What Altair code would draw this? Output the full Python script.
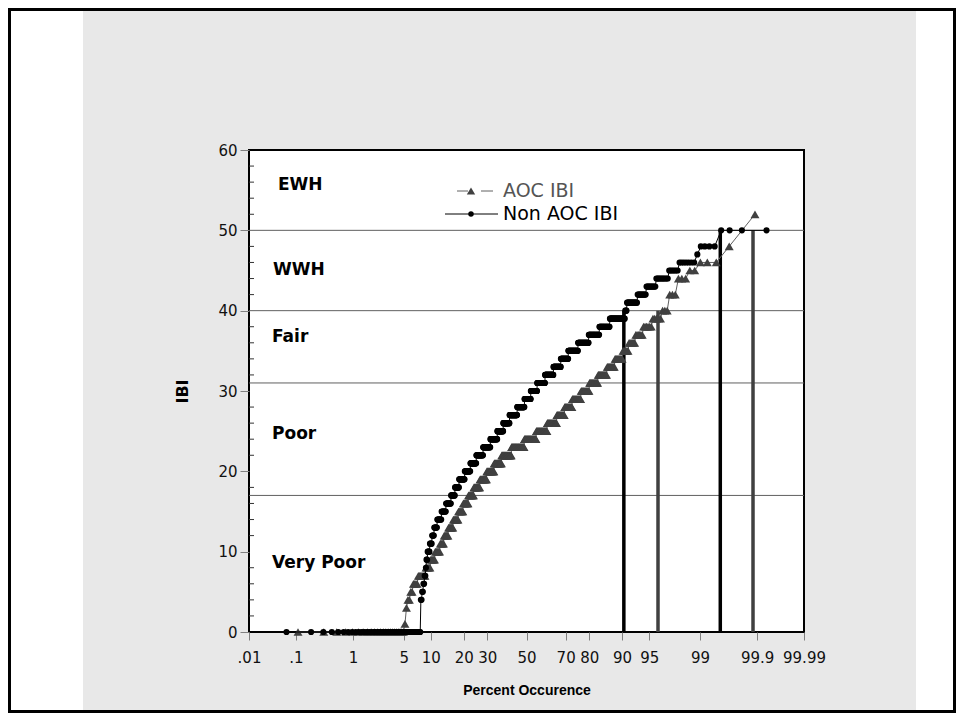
import altair as alt
import pandas as pd
from statistics import NormalDist

ND = NormalDist()

# ---------------- data ----------------
series_names = ["AOC IBI", "Non AOC IBI"]
series_colors = ["#404040", "#000000"]

# AOC sites: IBI score and number of sites with that score
aoc_ibi = [0, 1, 3, 4, 5, 6, 7, 8, 9, 10, 11, 12, 13, 14, 15, 16, 17, 18, 19, 20,
           21, 22, 23, 24, 25, 26, 27, 28, 29, 30, 31, 32, 33, 34, 35, 36, 37, 38,
           39, 40, 42, 44, 45, 46, 48, 52]
aoc_count = [23, 1, 1, 2, 2, 4, 7, 5, 5, 6, 5, 6, 7, 8, 8, 9, 10, 12, 14, 16,
             17, 23, 31, 29, 26, 22, 17, 16, 17, 15, 14, 13, 10, 9, 6, 6, 6, 6,
             5, 3, 3, 3, 2, 3, 1, 1]

# Non AOC sites
non_ibi = [0, 4, 5, 6, 7, 8, 9, 10, 11, 12, 13, 14, 15, 16, 17, 18, 19, 20, 21, 22,
           23, 24, 25, 26, 27, 28, 29, 30, 31, 32, 33, 34, 35, 36, 37, 38, 39, 40,
           41, 42, 43, 44, 45, 46, 47, 48, 50]
non_count = [60, 2, 2, 2, 2, 1, 2, 4, 4, 4, 6, 9, 10, 12, 10, 11, 16, 17, 19, 23,
             26, 26, 23, 25, 31, 30, 26, 26, 32, 33, 28, 27, 33, 33, 29, 25, 30, 3,
             16, 11, 10, 10, 6, 7, 1, 4, 4]

tick_pct = [0.01, 0.1, 1, 5, 10, 20, 30, 50, 70, 80, 90, 95, 99, 99.9, 99.99]
tick_labels = [".01", ".1", "1", "5", "10", "20", "30", "50", "70", "80", "90",
               "95", "99", "99.9", "99.99"]

class_bounds = [17, 31, 40, 50]
class_names = ["EWH", "WWH", "Fair", "Poor", "Very Poor"]
class_y = [55.6, 45.1, 36.7, 24.6, 8.65]

cross_pct = [90.4, 96.1, 99.53, 99.88]
cross_ibi = [40, 40, 50, 50]
cross_series = ["Non AOC IBI", "AOC IBI", "Non AOC IBI", "AOC IBI"]

major_y = [0, 10, 20, 30, 40, 50, 60]
minor_y = [v for v in range(2, 60, 2) if v % 10]

# ---------------- helpers ----------------
W, H = 555, 482


def probit(pct):
    return ND.inv_cdf(pct / 100.0)


def expand(values, counts, name):
    n = sum(counts)
    rows, i = [], 0
    for v, c in zip(values, counts):
        for _ in range(c):
            i += 1
            p = (i - 0.5) / n
            rows.append({"series": name, "ibi": v, "pct": 100 * p,
                         "z": ND.inv_cdf(p), "order": i})
    return pd.DataFrame(rows)


aoc_df = expand(aoc_ibi, aoc_count, series_names[0])
non_df = expand(non_ibi, non_count, series_names[1])

tick_z = [probit(p) for p in tick_pct]
parts = []
for i in range(len(tick_z) - 1):
    mid = (tick_z[i] + tick_z[i + 1]) / 2
    parts.append(f"datum.value < {mid:.6f} ? '{tick_labels[i]}' : ")
label_expr = "".join(parts) + f"'{tick_labels[-1]}'"

FONT = "Liberation Sans"
WIDE = "DejaVu Sans"
xscale = alt.Scale(domain=[probit(0.01), probit(99.99)], nice=False, zero=False)
yscale = alt.Scale(domain=[0, 60], nice=False, zero=False)
xaxis = alt.Axis(values=tick_z, labelExpr=label_expr, grid=False, domain=False,
                 tickSize=8, tickColor="#808080", labelFont=WIDE, labelFontSize=15,
                 labelColor="#111", labelPadding=10, labelOverlap=False,
                 labelFlush=False, title="Percent Occurence",
                 titleFont=FONT, titleFontSize=14, titleFontWeight="bold",
                 titleColor="#000", titlePadding=18)
yaxis = alt.Axis(values=major_y, grid=False, domain=False, tickSize=9,
                 tickColor="#808080", labelFont=WIDE, labelFontSize=15,
                 labelColor="#111", labelPadding=3, labelOverlap=False,
                 labelFlush=False, title="IBI", titleFont=WIDE,
                 titleFontSize=16, titleFontWeight="bold", titleColor="#000",
                 titlePadding=27)


def X(field):
    return alt.X(field, type="quantitative", scale=xscale, axis=xaxis)


def Y(field):
    return alt.Y(field, type="quantitative", scale=yscale, axis=yaxis)


one = pd.DataFrame({"k": [0]})

# decoration: white margins and outer frame
white_left = alt.Chart(one).mark_rect(color="white").encode(
    x=alt.value(-241), x2=alt.value(-166), y=alt.value(-142), y2=alt.value(563))
white_right = alt.Chart(one).mark_rect(color="white").encode(
    x=alt.value(667), x2=alt.value(707), y=alt.value(-142), y2=alt.value(563))
frame = alt.Chart(one).mark_rect(filled=False, stroke="black", strokeWidth=3).encode(
    x=alt.value(-239.5), x2=alt.value(705.5), y=alt.value(-140.5), y2=alt.value(561.5))

# minor inward ticks on y axis
minor = alt.Chart(pd.DataFrame({"m": minor_y})).mark_rule(
    color="#333", strokeWidth=1).encode(y=Y("m"), x=alt.value(0), x2=alt.value(5))

# class boundary lines and names
bounds = alt.Chart(pd.DataFrame({"b": class_bounds})).mark_rule(
    color="#606060", strokeWidth=1).encode(y=Y("b"))
cls = pd.DataFrame({"name": class_names, "y": class_y})
cls_style = dict(align="left", baseline="middle", font=WIDE, fontSize=17,
                 fontWeight="bold", color="#000")
cls_first = alt.Chart(cls.iloc[:1]).mark_text(**cls_style).encode(
    x=alt.value(29), y=Y("y"), text="name:N")
cls_second = alt.Chart(cls.iloc[1:2]).mark_text(**cls_style).encode(
    x=alt.value(24), y=Y("y"), text="name:N")
cls_rest = alt.Chart(cls.iloc[2:]).mark_text(**cls_style).encode(
    x=alt.value(23), y=Y("y"), text="name:N")

color_scale = alt.Scale(domain=series_names, range=series_colors)

cross = pd.DataFrame({"z": [probit(p) for p in cross_pct], "top": cross_ibi,
                      "base": [0] * len(cross_pct), "series": cross_series})
cross_rules = alt.Chart(cross).mark_rule(strokeWidth=3.5).encode(
    x=X("z"), y=Y("base"), y2="top:Q",
    color=alt.Color("series:N", scale=color_scale, legend=None))

aoc_line = alt.Chart(aoc_df).mark_line(color="#606060", strokeWidth=1).encode(
    x=X("z"), y=Y("ibi"), order="order:Q")
aoc_pts = alt.Chart(aoc_df).mark_point(
    shape="triangle-up", filled=True, size=80, color="#404040", opacity=1).encode(
    x=X("z"), y=Y("ibi"))
non_line = alt.Chart(non_df).mark_line(color="#000", strokeWidth=1).encode(
    x=X("z"), y=Y("ibi"), order="order:Q")
non_pts = alt.Chart(non_df).mark_circle(size=38, color="#000", opacity=1).encode(
    x=X("z"), y=Y("ibi"))

# legend drawn by hand
leg1 = pd.DataFrame({"s": [series_names[0]]})
leg2 = pd.DataFrame({"s": [series_names[1]]})
leg_aoc_line_a = alt.Chart(leg1).mark_rule(color="#606060", strokeWidth=1).encode(
    x=alt.value(208), x2=alt.value(219), y=alt.value(41))
leg_aoc_line_b = alt.Chart(leg1).mark_rule(color="#606060", strokeWidth=1).encode(
    x=alt.value(232), x2=alt.value(244), y=alt.value(41))
leg_aoc_sym = alt.Chart(leg1).mark_point(
    shape="triangle-up", filled=True, size=70, color="#404040", opacity=1).encode(
    x=alt.value(222), y=alt.value(41))
leg_aoc_txt = alt.Chart(leg1).mark_text(
    align="left", baseline="middle", font=WIDE, fontSize=19, color="#555").encode(
    x=alt.value(254), y=alt.value(41), text="s:N")
leg_non_line = alt.Chart(leg2).mark_rule(color="#000", strokeWidth=1).encode(
    x=alt.value(196), x2=alt.value(249), y=alt.value(64))
leg_non_sym = alt.Chart(leg2).mark_circle(size=30, color="#000", opacity=1).encode(
    x=alt.value(222), y=alt.value(64))
leg_non_txt = alt.Chart(leg2).mark_text(
    align="left", baseline="middle", font=WIDE, fontSize=19, color="#000").encode(
    x=alt.value(254), y=alt.value(64), text="s:N")

chart = alt.layer(
    white_left, white_right, frame, bounds, minor, cls_first, cls_second, cls_rest,
    cross_rules, aoc_line, aoc_pts, non_line, non_pts,
    leg_aoc_line_a, leg_aoc_line_b, leg_aoc_sym, leg_aoc_txt,
    leg_non_line, leg_non_sym, leg_non_txt,
).properties(
    width=W, height=H,
    padding={"left": 241, "top": 142, "right": 152, "bottom": 81},
    autosize=alt.AutoSizeParams(type="none"),
    background="#e8e8e8",
).configure_view(fill="white", stroke="black", strokeWidth=2)

chart.save("out.html", embed_options={"renderer": "svg", "actions": False})
